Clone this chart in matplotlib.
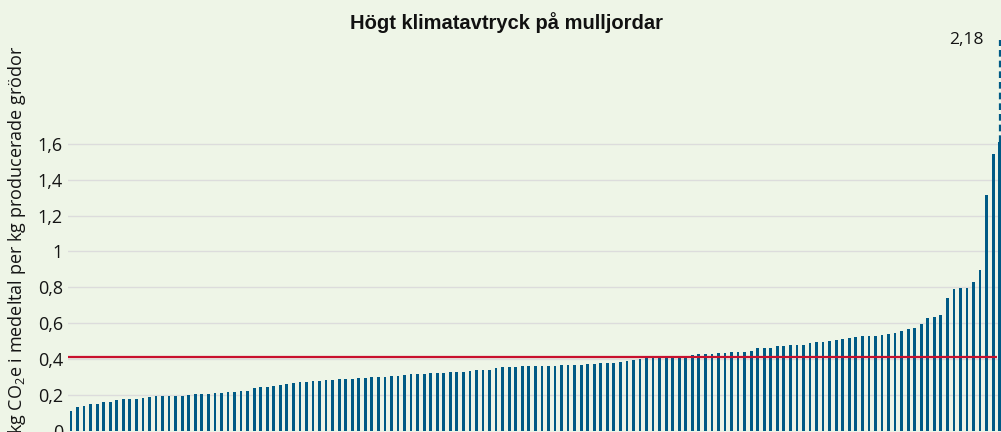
import numpy as np
import matplotlib
matplotlib.use('Agg')
import matplotlib.pyplot as plt

plt.rcParams['font.family'] = ['Open Sans', 'DejaVu Sans']
plt.rcParams['mathtext.default'] = 'regular'

# kg CO2e per kg crop, sorted, one bar per farm
values = [
    0.11, 0.13, 0.137, 0.148, 0.148, 0.159, 0.159, 0.168, 0.174, 0.176,
    0.176, 0.181, 0.189, 0.191, 0.191, 0.191, 0.191, 0.194, 0.198, 0.202,
    0.205, 0.205, 0.209, 0.209, 0.215, 0.215, 0.22, 0.22, 0.239, 0.245,
    0.245, 0.248, 0.252, 0.26, 0.266, 0.269, 0.273, 0.274, 0.276, 0.283,
    0.284, 0.287, 0.287, 0.29, 0.293, 0.293, 0.297, 0.297, 0.297, 0.302,
    0.302, 0.312, 0.314, 0.314, 0.315, 0.319, 0.321, 0.321, 0.325, 0.328,
    0.328, 0.332, 0.338, 0.338, 0.338, 0.351, 0.353, 0.356, 0.356, 0.36,
    0.36, 0.36, 0.36, 0.36, 0.36, 0.364, 0.364, 0.366, 0.366, 0.371,
    0.371, 0.375, 0.375, 0.375, 0.382, 0.388, 0.392, 0.399, 0.405, 0.409,
    0.412, 0.414, 0.416, 0.418, 0.418, 0.422, 0.425, 0.429, 0.429, 0.433,
    0.433, 0.436, 0.438, 0.44, 0.442, 0.459, 0.459, 0.459, 0.47, 0.471,
    0.476, 0.476, 0.476, 0.49, 0.494, 0.496, 0.5, 0.505, 0.509, 0.515,
    0.52, 0.526, 0.527, 0.529, 0.536, 0.54, 0.544, 0.558, 0.567, 0.575,
    0.593, 0.63, 0.632, 0.644, 0.742, 0.789, 0.797, 0.797, 0.828, 0.895,
    1.315, 1.544, 2.18,
]
average = 0.413
cap = 1.61
yticks = [0, 0.2, 0.4, 0.6, 0.8, 1.0, 1.2, 1.4, 1.6]
ytick_labels = ['0', '0,2', '0,4', '0,6', '0,8', '1', '1,2', '1,4', '1,6']

bg = '#eef5e7'
bar_col = '#005a85'
red = '#c8102e'
txt = '#141414'

x = np.arange(1, len(values) + 1)
v = np.array(values)

fig = plt.figure(figsize=(10.01, 4.32), dpi=100, facecolor=bg)
ax = fig.add_axes([68 / 1001, 1.5 / 432, 933 / 1001, 430.5 / 432])
ax.set_facecolor(bg)

ax.bar(x, np.minimum(v, cap), width=0.42, color=bar_col, zorder=2)
# the tallest bar is cut, dashed line shows its real height
ax.vlines(x[-1], cap, v[-1], color=bar_col, lw=1.6, linestyles=(0, (3, 1.8)), zorder=2)
ax.annotate('2,18', xy=(x[-1], v[-1]), xytext=(-16, 0), textcoords='offset pixels',
            ha='right', va='center', fontsize=12.5, color=txt)

ax.hlines(average, 0.54, 142.6, color=red, lw=1.6, zorder=3)

ax.set_xlim(0.54, 143.2)
ax.set_ylim(0, 2.404)
ax.set_yticks(yticks)
ax.set_yticklabels(ytick_labels, fontsize=13, color=txt)
ax.set_xticks([])
ax.tick_params(axis='y', length=0, pad=3.6)
ax.yaxis.grid(True, color='#dcdcdc', lw=1)
ax.set_axisbelow(True)
for s in ax.spines.values():
    s.set_visible(False)

fig.text(507 / 1001, 1 - 23 / 432, 'Högt klimatavtryck på mulljordar',
         ha='center', va='center', fontsize=14.5, fontweight='bold',
         family=['Liberation Sans', 'DejaVu Sans'], color='#111111')
fig.text(17 / 1001, 1 - 46 / 432, 'kg CO$_2$e i medeltal per kg producerade grödor',
         rotation=90, ha='center', va='top', fontsize=13, color=txt)

fig.savefig('out.png', dpi=100, facecolor=bg)
